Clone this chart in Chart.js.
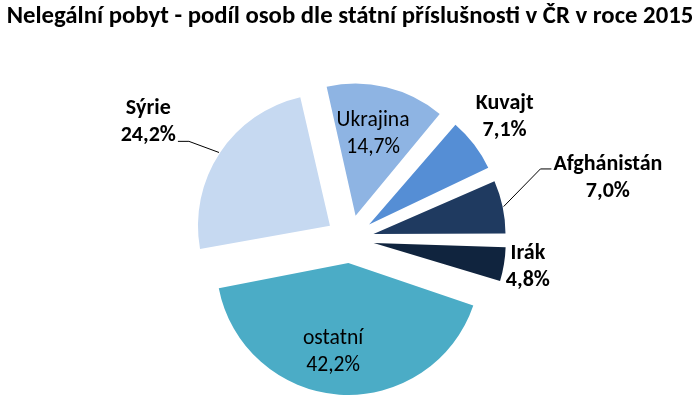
<!DOCTYPE html>
<html>
<head>
<meta charset="utf-8">
<script src="https://cdn.jsdelivr.net/npm/chart.js@4/dist/chart.umd.min.js"></script>
<style>
  html, body { margin: 0; padding: 0; background: #fff; }
</style>
</head>
<body>
<canvas id="pieChart" width="699" height="398"></canvas>
<script>
// --- Data ---
const chartTitle = "Nelegální pobyt - podíl osob dle státní příslušnosti v ČR v roce 2015";
const countries = ["Ukrajina", "Kuvajt", "Afghánistán", "Irák", "ostatní", "Sýrie"];
const shares = [14.7, 7.1, 7.0, 4.8, 42.2, 24.2];
const colors = ["#8EB4E3", "#558ED5", "#1F3A60", "#10243E", "#4BACC6", "#C6D9F1"];

// --- Label layout (distance from pie centre, small angle tweak in degrees) ---
const labelBold = [false, true, true, true, false, true];
const labelDist = [107, 197, 265, 180, 114, 233];
const labelShift = [-1, -1, -1.4, -0.5, 4.6, -3.4];
// leader line: side of the label it attaches to, and vertical offset
const leaderSide = [null, null, "left", null, null, "right"];
const leaderDy = [0, 0, -9, 0, 0, 19];

const FAMILY = "Calibri, Carlito, Lato, sans-serif";
const R = 132;
const OFFSET = 96; // Chart.js moves a slice by offset / 4

// --- fit font size so a text gets a given width ---
function fitSize(text, weight, width) {
  const c = document.createElement("canvas").getContext("2d");
  c.font = weight + " 100px " + FAMILY;
  return 100 * width / c.measureText(text).width;
}
const titleSize = fitSize(chartTitle, "bold", 687);
const boldSize = fitSize("Afghánistán", "bold", 109);
const normalSize = fitSize("Ukrajina", "normal", 73);

const pct = v => v.toFixed(1).replace(".", ",") + "%";

// --- keep every exploded slice the same radius ---
// (Chart.js grows narrow slices by offset/4 * (1 - sin(angle)))
const evenRadius = {
  id: "evenRadius",
  beforeDatasetsDraw(chart) {
    chart.getDatasetMeta(0).data.forEach(arc => {
      const fix = 1 - Math.sin(Math.min(Math.PI, arc.circumference));
      arc.outerRadius = R - (OFFSET / 4) * fix;
    });
  }
};

// --- labels plugin ---
const pieLabels = {
  id: "pieLabels",
  afterDatasetsDraw(chart) {
    const ctx = chart.ctx;
    const arcs = chart.getDatasetMeta(0).data;
    ctx.save();
    ctx.textAlign = "center";
    ctx.textBaseline = "middle";
    arcs.forEach((arc, i) => {
      const mid = (arc.startAngle + arc.endAngle) / 2;
      const a = mid + labelShift[i] * Math.PI / 180;
      const x = arc.x + Math.cos(a) * labelDist[i];
      const y = arc.y + Math.sin(a) * labelDist[i];
      const lines = [countries[i], pct(shares[i])];
      ctx.font = labelBold[i]
        ? "bold " + boldSize + "px " + FAMILY
        : "normal " + normalSize + "px " + FAMILY;
      ctx.fillStyle = "#000";
      ctx.fillText(lines[0], x, y - 13.5);
      ctx.fillText(lines[1], x, y + 13.5);

      if (leaderSide[i]) {
        const half = Math.max(...lines.map(t => ctx.measureText(t).width)) / 2;
        const shift = OFFSET / 4;
        const ex = arc.x + Math.cos(mid) * (shift + R + 1);
        const ey = arc.y + Math.sin(mid) * (shift + R + 1);
        const dir = leaderSide[i] === "right" ? 1 : -1;
        const sx = x + dir * (half + 2);
        const ly = y + leaderDy[i];
        ctx.beginPath();
        ctx.moveTo(sx, ly);
        ctx.lineTo(sx + dir * 11, ly);
        ctx.lineTo(ex, ey);
        ctx.strokeStyle = "#000";
        ctx.lineWidth = 1;
        ctx.stroke();
      }
    });
    ctx.restore();
  }
};

// --- Chart.js setup ---
const ctx = document.getElementById("pieChart").getContext("2d");
new Chart(ctx, {
  type: "pie",
  data: {
    labels: countries,
    datasets: [{
      data: shares,
      backgroundColor: colors,
      borderWidth: 0,
      offset: OFFSET,
      hoverOffset: 0,
      radius: R
    }]
  },
  options: {
    responsive: false,
    animation: false,
    devicePixelRatio: 1,
    rotation: -13,
    layout: { padding: { left: 1, right: 0, top: 0, bottom: 0 } },
    events: [],
    plugins: {
      legend: { display: false },
      tooltip: { enabled: false },
      title: {
        display: true,
        text: chartTitle,
        color: "#000",
        font: { family: FAMILY, size: titleSize, weight: "bold" },
        padding: { top: 2, bottom: 78 - 1.2 * titleSize }
      }
    }
  },
  plugins: [evenRadius, pieLabels]
});
</script>
</body>
</html>
